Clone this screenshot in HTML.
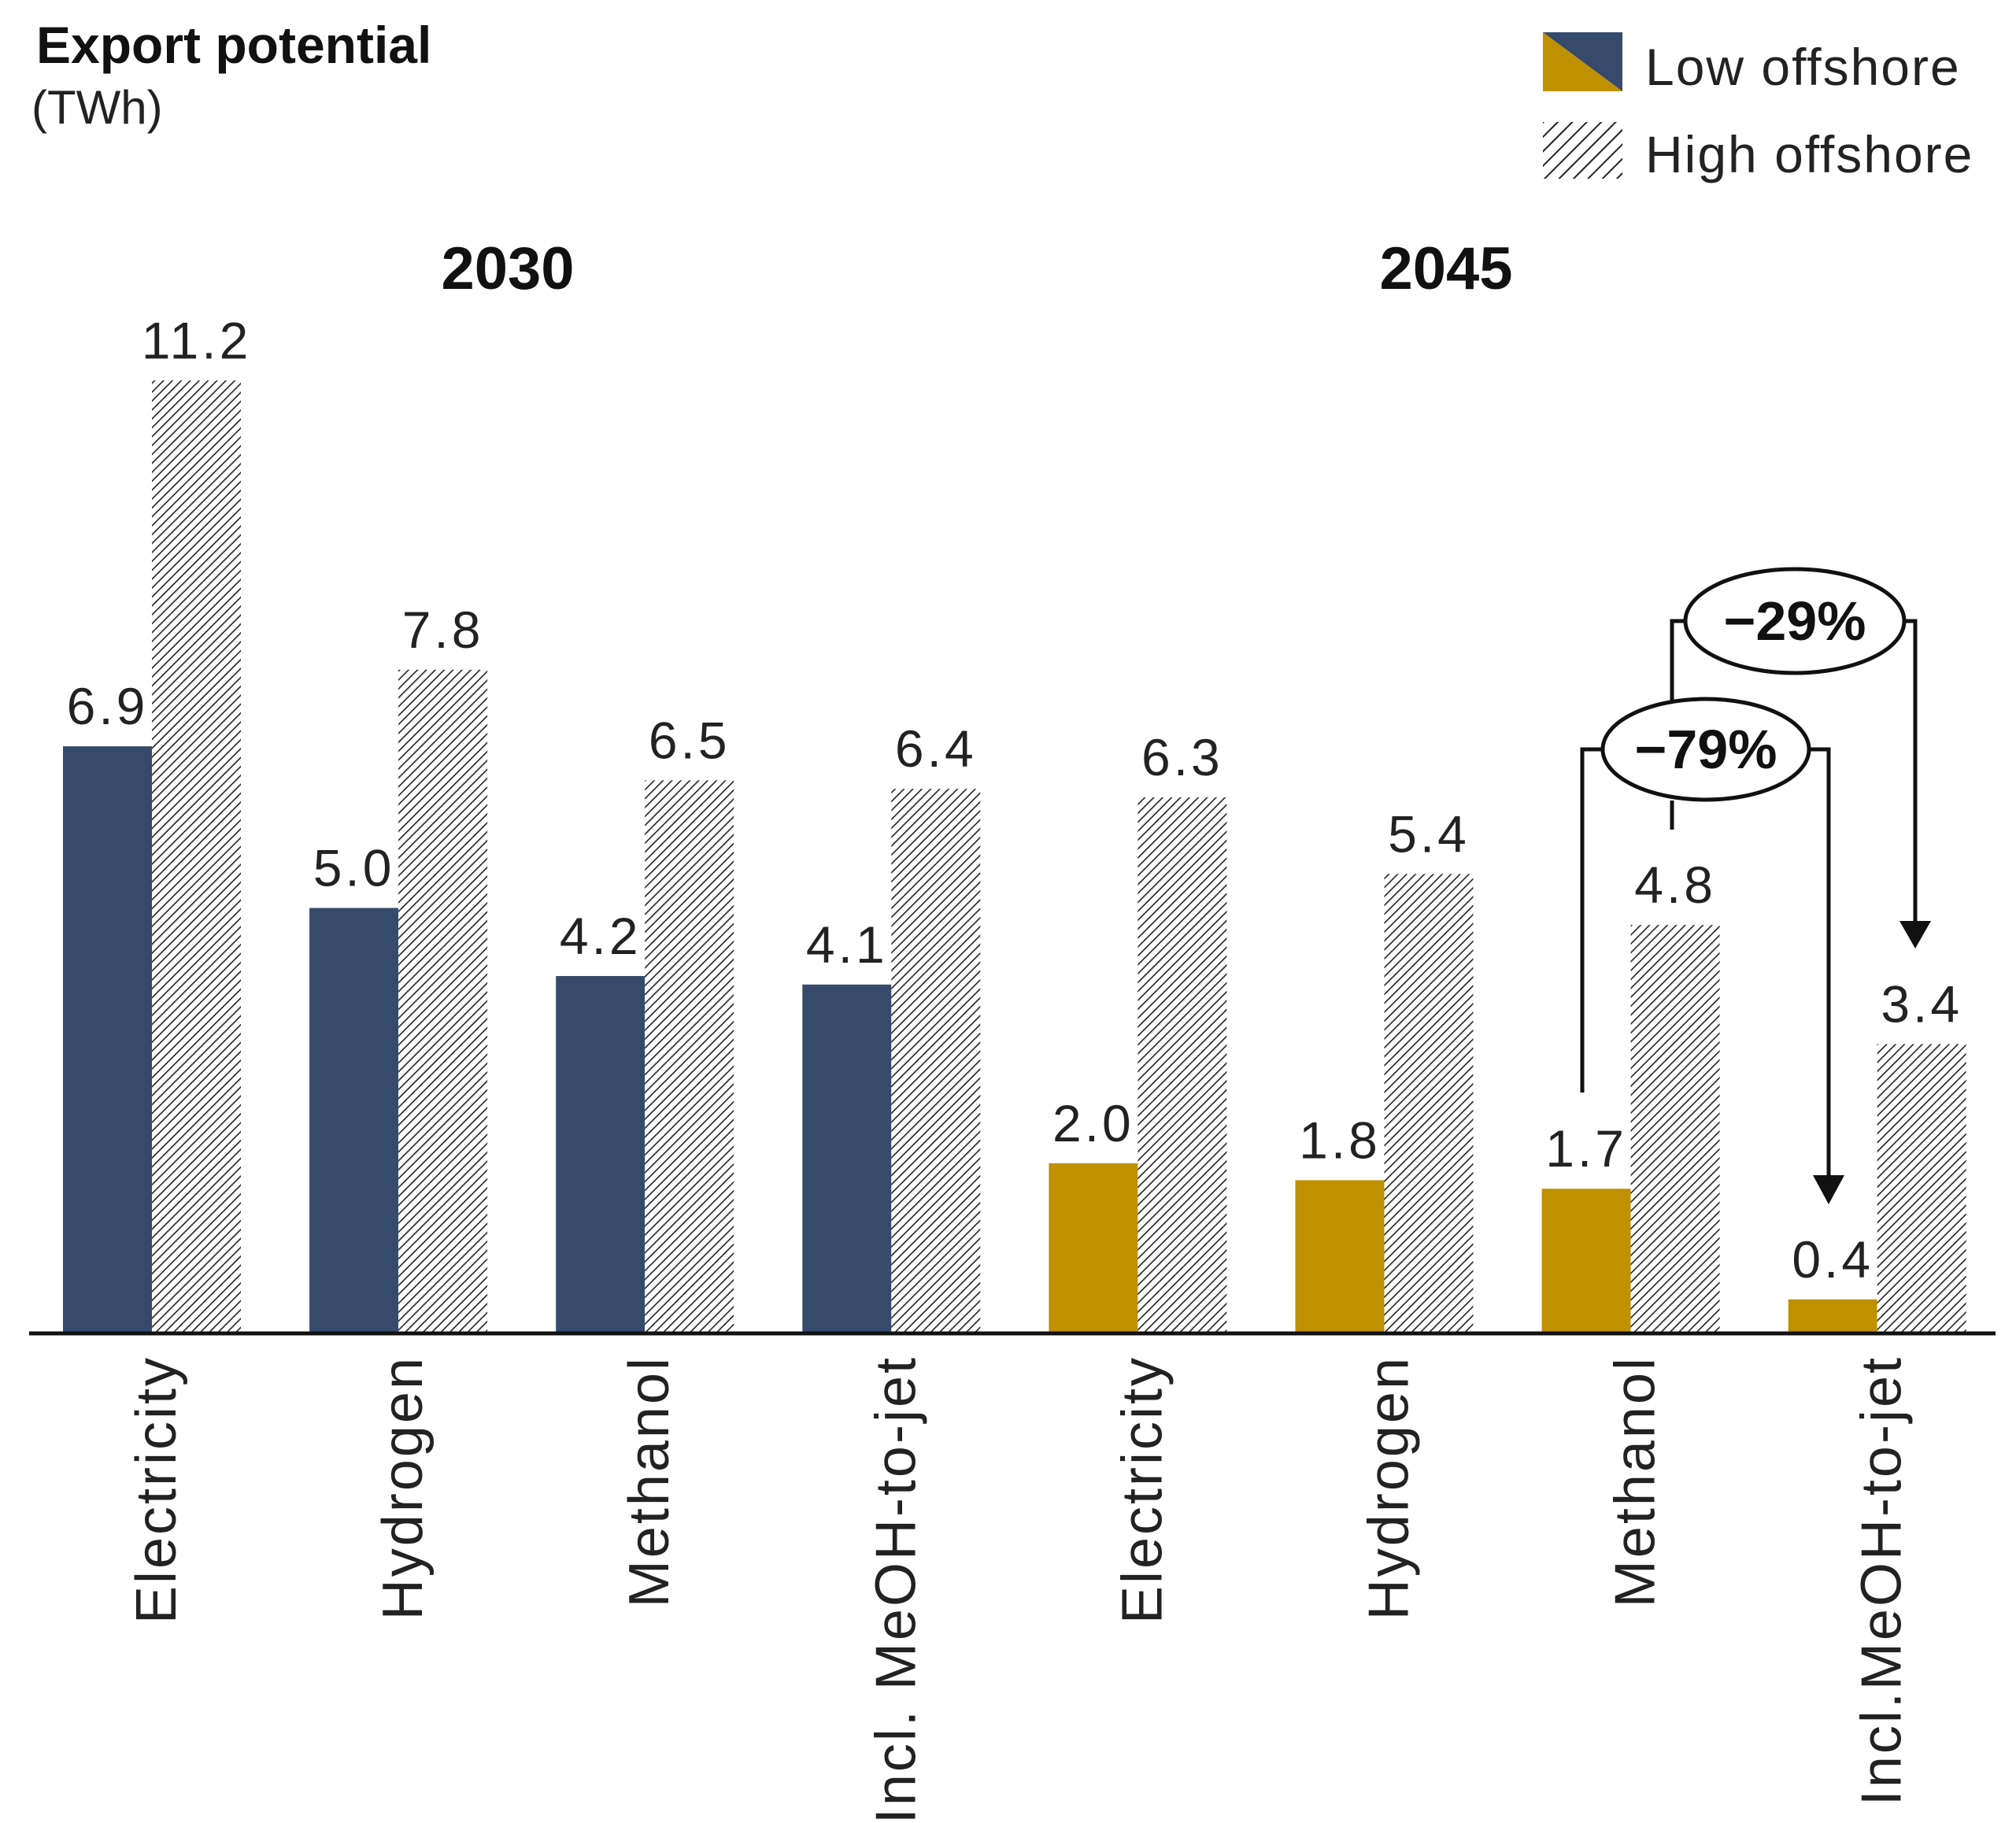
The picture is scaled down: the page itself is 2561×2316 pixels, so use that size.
<!DOCTYPE html>
<html><head><meta charset="utf-8">
<style>
html,body{margin:0;padding:0;background:#fff;}
svg{display:block;font-family:"Liberation Sans",sans-serif;}
</style></head>
<body>
<svg id="chart" width="2561" height="2316" viewBox="0 0 2561 2316" xmlns="http://www.w3.org/2000/svg">
<defs>
<pattern id="hatch" patternUnits="userSpaceOnUse" width="8" height="8" patternTransform="rotate(45)">
<rect width="8" height="8" fill="#fff"/>
<line x1="0" y1="0" x2="0" y2="8" stroke="#222" stroke-width="3.2"/>
</pattern>
<pattern id="hatch2" patternUnits="userSpaceOnUse" width="13" height="13" patternTransform="rotate(45)">
<rect width="13" height="13" fill="#fff"/>
<line x1="0" y1="0" x2="0" y2="13" stroke="#222" stroke-width="4"/>
</pattern>
</defs>
<text x="46" y="80" font-size="66" font-weight="bold" fill="#111">Export potential</text>
<text x="40" y="157" font-size="60" fill="#222">(TWh)</text>
<g>
<polygon points="1960,41 2061,41 2061,116" fill="#364b6b"/>
<polygon points="1960,41 2061,116 1960,116" fill="#bf9000"/>
<text x="2090" y="108" font-size="66" letter-spacing="2" fill="#222">Low offshore</text>
<rect x="1960" y="155" width="101" height="72" fill="url(#hatch2)"/>
<text x="2090" y="219" font-size="66" letter-spacing="2" fill="#222">High offshore</text>
</g>
<text x="645" y="367" font-size="76" font-weight="bold" text-anchor="middle" fill="#111">2030</text>
<text x="1837" y="367" font-size="76" font-weight="bold" text-anchor="middle" fill="#111">2045</text>
<g id="bars"></g>
<line x1="37" y1="1694" x2="2535" y2="1694" stroke="#111" stroke-width="5"/>
<g id="annot" fill="none" stroke="#111" stroke-width="5">
<polyline points="2141,789 2124,789 2124,890"/>
<polyline points="2419,789 2433,789 2433,1175"/>
<polygon points="2413,1170 2453,1170 2433,1205" fill="#111" stroke="none"/>
<polyline points="2036,952 2010,952 2010,1388"/>
<polyline points="2298,952 2323,952 2323,1498"/>
<polygon points="2303,1493 2343,1493 2323,1530" fill="#111" stroke="none"/>
<line x1="2124" y1="1017" x2="2124" y2="1054"/>
<ellipse cx="2280" cy="789" rx="139" ry="66" fill="#fff"/>
<ellipse cx="2167" cy="952" rx="131" ry="64" fill="#fff"/>
<text x="2280" y="813" font-size="70" font-weight="bold" text-anchor="middle" fill="#111" stroke="none">−29%</text>
<text x="2167" y="976" font-size="70" font-weight="bold" text-anchor="middle" fill="#111" stroke="none">−79%</text>
</g>
</svg>
<script>
const categories = ["Electricity","Hydrogen","Methanol","Incl. MeOH-to-jet","Electricity","Hydrogen","Methanol","Incl.MeOH-to-jet"];
const lowValues = [6.9,5.0,4.2,4.1,2.0,1.8,1.7,0.4];
const highValues = [11.2,7.8,6.5,6.4,6.3,5.4,4.8,3.4];
const groupYears = ["2030","2030","2030","2030","2045","2045","2045","2045"];

const NS = "http://www.w3.org/2000/svg";
const baseY = 1694, pxPerUnit = 108.1, x0 = 80, pitch = 313.1, bw = 113;
function yScale(v){ return baseY - v*pxPerUnit; }
function xScale(i){ return x0 + i*pitch; }
const g = document.getElementById('bars');
function mk(tag, attrs){ const e = document.createElementNS(NS, tag); for (const k in attrs) e.setAttribute(k, attrs[k]); return e; }
categories.forEach((c, i) => {
  const xl = xScale(i);
  const lowColor = groupYears[i] === "2030" ? "#364b6b" : "#bf9000";
  const r1 = mk('rect', {x: xl, y: yScale(lowValues[i]), width: bw, height: baseY - yScale(lowValues[i]), fill: lowColor});
  
  
  g.appendChild(r1);
  const r2 = mk('rect', {x: xl + bw, y: yScale(highValues[i]), width: bw, height: baseY - yScale(highValues[i]), fill: "url(#hatch)"});
  
  
  g.appendChild(r2);
  const t1 = mk('text', {x: xl + bw/2, y: yScale(lowValues[i]) - 28, 'font-size': 66, 'letter-spacing': 4, 'text-anchor': 'middle', fill: '#222'});
  t1.textContent = lowValues[i].toFixed(1);
  
  
  g.appendChild(t1);
  const t2 = mk('text', {x: xl + bw*1.5, y: yScale(highValues[i]) - 28, 'font-size': 66, 'letter-spacing': 4, 'text-anchor': 'middle', fill: '#222'});
  t2.textContent = highValues[i].toFixed(1);
  
  
  g.appendChild(t2);
  const cx = xl + bw + 30;
  const t3 = mk('text', {x: 0, y: 0, 'font-size': 72, 'letter-spacing': 3, 'text-anchor': 'end', fill: '#222', transform: 'translate(' + cx + ',1722) rotate(-90)'});
  t3.textContent = c;
  
  
  g.appendChild(t3);
});
</script>
</body></html>
